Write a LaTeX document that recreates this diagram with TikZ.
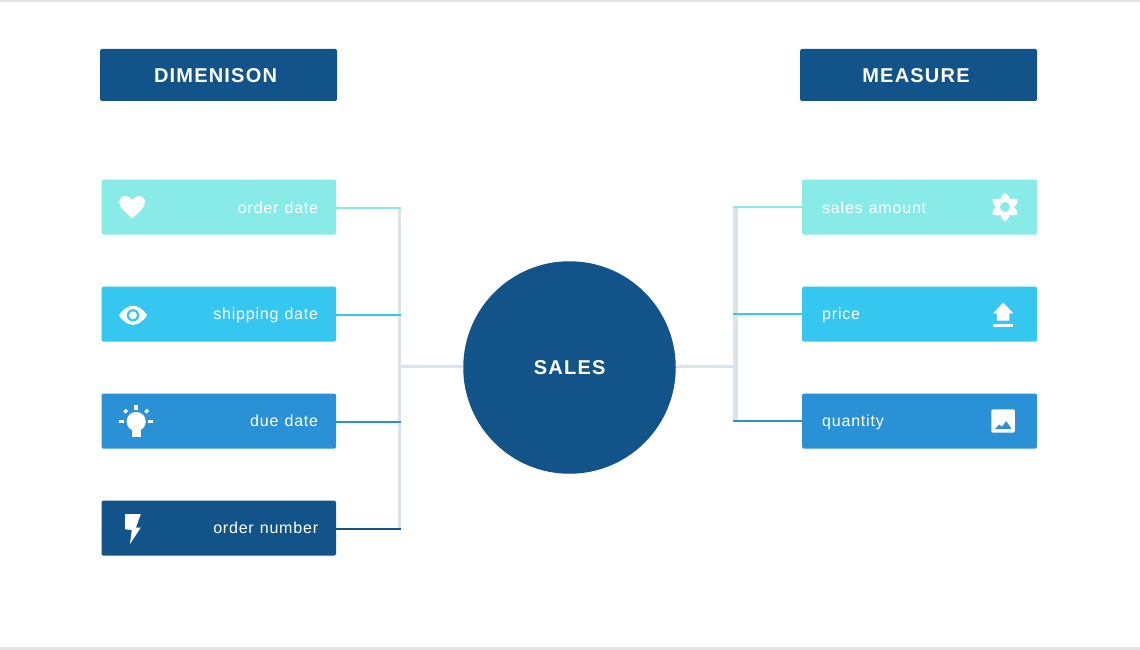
\documentclass[tikz,border=0pt]{standalone}
\usepackage{fontspec}
\setmainfont{Liberation Sans}
\definecolor{cAqua}{HTML}{88EBE8}
\definecolor{cSky}{HTML}{36C7F0}
\definecolor{cMid}{HTML}{2B91D6}
\definecolor{cDark}{HTML}{12548A}
\definecolor{cTrunk}{HTML}{DAE4EE}
\definecolor{cEdge}{HTML}{E4E4E4}
\newfontfamily\labelfont[LetterSpace=5,WordSpace=1.15]{Liberation Sans}
\newfontfamily\headfont[LetterSpace=6]{Liberation Sans Bold}
\tikzset{
  head box/.style={draw=none,fill=cDark,rounded corners=1.5pt,minimum width=237pt,minimum height=52pt,inner sep=0pt},
  item box/.style={draw=none,fill=#1,rounded corners=1.5pt,minimum width=234.5pt,minimum height=55pt,inner sep=0pt},
  right box/.style={item box=#1,minimum width=235pt},
  head text/.style={text=white,inner sep=0pt,font=\headfont\fontsize{20}{24}\selectfont},
  item text/.style={text=white,inner sep=0pt,font=\labelfont\fontsize{16}{19}\selectfont},
  branch/.style={draw=#1,line width=2.4pt},
  trunk/.style={draw=cTrunk,line width=3pt},
  icon/.style={fill=white,draw=none},
}
\begin{document}
\begin{tikzpicture}[x=1pt,y=-1pt]
\useasboundingbox (0,0) rectangle (1140,650);
\fill[white] (0,0) rectangle (1140,650);
\fill[cEdge] (0,0) rectangle (1140,2);
\fill[cEdge] (0,647) rectangle (1140,650);

% junction points
\coordinate (lt) at (399.5,208);
\coordinate (lb) at (399.5,529);
\coordinate (lm) at (398,366.5);
\coordinate (lj1) at (401,208);
\coordinate (lj2) at (401,315);
\coordinate (lj3) at (401,422);
\coordinate (lj4) at (401,529);
\coordinate (rt) at (735.5,207);
\coordinate (rb) at (735.5,421);
\coordinate (rm) at (735.5,366.5);
\coordinate (rj1) at (733,207);
\coordinate (rj2) at (733,314);
\coordinate (rj3) at (733,421);

% boxes
\node[head box] (hd) at (218.5,75) {};
\node[head box] (hm) at (918.5,75) {};
\node[item box=cAqua] (d1) at (218.75,207) {};
\node[item box=cSky]  (d2) at (218.75,314) {};
\node[item box=cMid]  (d3) at (218.75,421) {};
\node[item box=cDark] (d4) at (218.75,528) {};
\node[right box=cAqua] (m1) at (919.5,207) {};
\node[right box=cSky]  (m2) at (919.5,314) {};
\node[right box=cMid]  (m3) at (919.5,421) {};
\node[circle,fill=cDark,draw=none,minimum size=212.5pt,inner sep=0pt] (sales) at (569.5,367.5) {};

% connectors
\draw[trunk] (lt) -- (lb);
\draw[trunk] (lm) -- (sales.west |- lm);
\draw[trunk,line width=5pt] (rt) -- (rb);
\draw[trunk] (sales.east |- rm) -- (rm);
\draw[branch=cAqua] (d1.east |- lj1) -- (lj1);
\draw[branch=cSky]  (d2.east |- lj2) -- (lj2);
\draw[branch=cMid]  (d3.east |- lj3) -- (lj3);
\draw[branch=cDark] (d4.east |- lj4) -- (lj4);
\draw[branch=cAqua] (rj1) -- (m1.west |- rj1);
\draw[branch=cSky]  (rj2) -- (m2.west |- rj2);
\draw[branch=cMid]  (rj3) -- (m3.west |- rj3);

% texts
\node[head text,anchor=base] (thd) at (215.5,82.5) {DIMENISON};
\node[head text,anchor=base] (thm) at (916,82.5) {MEASURE};
\node[head text,anchor=base] (tsales) at (569.7,374) {SALES};
\node[item text,anchor=base east] (td1) at (318.3,213) {order date};
\node[item text,anchor=base east] (td2) at (318.3,319) {shipping date};
\node[item text,anchor=base east] (td3) at (318.3,426) {due date};
\node[item text,anchor=base east] (td4) at (318.3,533) {order number};
\node[item text,anchor=base west] (tm1) at (822,213) {sales amount};
\node[item text,anchor=base west] (tm2) at (822,319) {price};
\node[item text,anchor=base west] (tm3) at (822,426) {quantity};

% heart
\fill[icon] (132.3,218.5) .. controls (125,211.5) and (119.3,207.5) .. (119.3,202.5)
  .. controls (119.3,198.5) and (122,196) .. (125.5,196)
  .. controls (128,196) and (131,197.5) .. (132.3,200)
  .. controls (133.6,197.5) and (136.6,196) .. (139,196)
  .. controls (142.5,196) and (145,198.5) .. (145,202.5)
  .. controls (145,207.5) and (139.5,211.5) .. (132.3,218.5) -- cycle;
% eye
\fill[icon] (119,315.3) .. controls (123,309) and (128,305.8) .. (133,305.8)
  .. controls (138,305.8) and (143,309) .. (147,315.3)
  .. controls (143,321.6) and (138,324.8) .. (133,324.8)
  .. controls (128,324.8) and (123,321.6) .. (119,315.3) -- cycle;
\fill[cSky] (133,315.3) circle[radius=6.2];
\fill[icon] (133,315.3) circle[radius=3.9];
% bulb
\fill[icon] (136.2,421.5) circle[radius=9.6];
\fill[icon] (131.5,425) rectangle (141,437.3);
\fill[icon] (134.4,405) rectangle (138,409.8);
\fill[icon] (119,420.2) rectangle (124.2,423);
\fill[icon] (148,420.2) rectangle (153.3,423);
\fill[icon,rotate around={45:(125.7,411.2)}] (123.9,409.6) rectangle (127.5,412.8);
\fill[icon,rotate around={45:(146.7,411.2)}] (144.9,409.6) rectangle (148.5,412.8);
% bolt
\fill[icon] (125,514) -- (140.8,514) -- (136,527.5) -- (140.8,527.5) -- (130,544) -- (131.8,530) -- (125,529.3) -- cycle;
% flower
\foreach \a in {0,60,120,180,240,300}
  \fill[icon,rotate around={\a:(1005,207)}] (1005,192.5) .. controls (1011,197) and (1012,204) .. (1005,207)
     .. controls (998,204) and (999,197) .. (1005,192.5) -- cycle;
\fill[cAqua] (1005,207) circle[radius=5];
% upload
\fill[icon] (1003.2,302.7) -- (1013.4,313.4) -- (1009.3,313.4) -- (1009.3,320.7) -- (996.8,320.7) -- (996.8,313.4) -- (993,313.4) -- cycle;
\fill[icon] (993,323.7) rectangle (1013.2,326.7);
% image
\fill[icon,rounded corners=1.5pt] (991.3,409.3) rectangle (1014.8,432.7);
\fill[cMid] (995,428.8) -- (999.3,424.6) -- (1002,426.6) -- (1006.2,421.2) -- (1011.5,428.8) -- cycle;
\end{tikzpicture}
\end{document}
